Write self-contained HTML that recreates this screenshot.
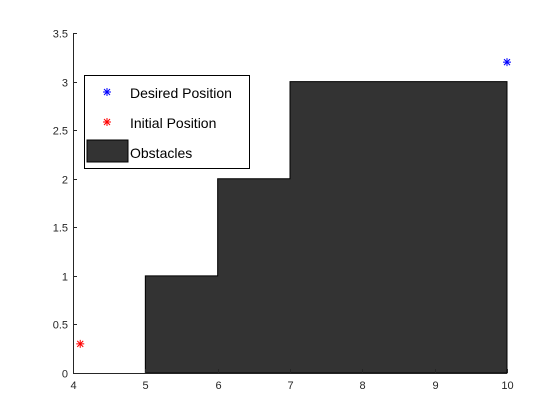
<!DOCTYPE html>
<html><head><meta charset="utf-8"><style>
html,body{margin:0;padding:0;background:#fff;}
svg{display:block;font-family:"Liberation Sans",sans-serif;}
</style></head><body>
<svg id="chart" width="560" height="420">
<rect width="560" height="420" fill="#fff"/>
<g id="obs"></g>
<g id="axes"></g>
<g id="pts"></g>
<g>
<rect x="84.5" y="75.5" width="165" height="93" fill="#fff" stroke="#000" stroke-width="1"/>
<g id="legmarks"></g>
<text x="130" y="98" font-size="14" fill="#000">Desired Position</text>
<text x="130" y="128" font-size="14" fill="#000">Initial Position</text>
<rect x="87" y="140" width="41" height="22" fill="#333" stroke="#000" stroke-width="1"/>
<text x="130" y="158" font-size="14" fill="#000">Obstacles</text>
</g>
</svg>
<script>
const xTicks=[4,5,6,7,8,9,10];
const yTicks=[0,0.5,1,1.5,2,2.5,3,3.5];
const obstacleX=[5,5,6,6,7,7,10,10];
const obstacleY=[0,1,1,2,2,3,3,0];
const desired=[10,3.2];
const initial=[4.1,0.3];
const X0=73,X1=507,Y0=373,Y1=33;
const sx=v=>X0+(v-4)/6*(X1-X0);
const sy=v=>Y0-(v/3.5)*(Y0-Y1);
const NS='http://www.w3.org/2000/svg';
function mk(t,a,p){const e=document.createElementNS(NS,t);for(const k in a)e.setAttribute(k,a[k]);p.appendChild(e);return e;}
const obs=document.getElementById('obs');
const poly=mk('polygon',{points:obstacleX.map((x,i)=>sx(x)+','+sy(obstacleY[i])).join(' '),fill:'#333',stroke:'#000','stroke-width':1},obs);


const ax=document.getElementById('axes');
const xl=mk('line',{x1:X0,y1:Y0+0.5,x2:X1,y2:Y0+0.5,stroke:'#262626'},ax);


const yl=mk('line',{x1:X0+0.5,y1:Y0,x2:X0+0.5,y2:Y1,stroke:'#262626'},ax);


xTicks.forEach(v=>{const x=Math.round(sx(v))+0.5;
mk('line',{x1:x,y1:Y0,x2:x,y2:Y0-4,stroke:'#262626'},ax);
const t=mk('text',{x:x,y:Y0+16,'font-size':11,'text-anchor':'middle',fill:'#262626'},ax);t.textContent=v;

});
yTicks.forEach(v=>{const y=Math.round(sy(v))+0.5;
mk('line',{x1:X0,y1:y,x2:X0+4,y2:y,stroke:'#262626'},ax);
const t=mk('text',{x:X0-5,y:y+4,'font-size':11,'text-anchor':'end',fill:'#262626'},ax);t.textContent=v;

});
function star(cx,cy,c,p,name){const g=mk('g',{stroke:c,'stroke-width':1},p);


const r=4;mk('line',{x1:cx-r,y1:cy,x2:cx+r,y2:cy},g);mk('line',{x1:cx,y1:cy-r,x2:cx,y2:cy+r},g);
mk('line',{x1:cx-3,y1:cy-3,x2:cx+3,y2:cy+3},g);mk('line',{x1:cx-3,y1:cy+3,x2:cx+3,y2:cy-3},g);}
const pts=document.getElementById('pts');
star(sx(desired[0]),sy(desired[1]),'#0000ff',pts,'desired-position-marker');
star(sx(initial[0]),sy(initial[1]),'#ff0000',pts,'initial-position-marker');
const lm=document.getElementById('legmarks');
star(107,92,'#0000ff',lm,'legend-desired-marker');
star(107,122,'#ff0000',lm,'legend-initial-marker');
</script>
</body></html>
